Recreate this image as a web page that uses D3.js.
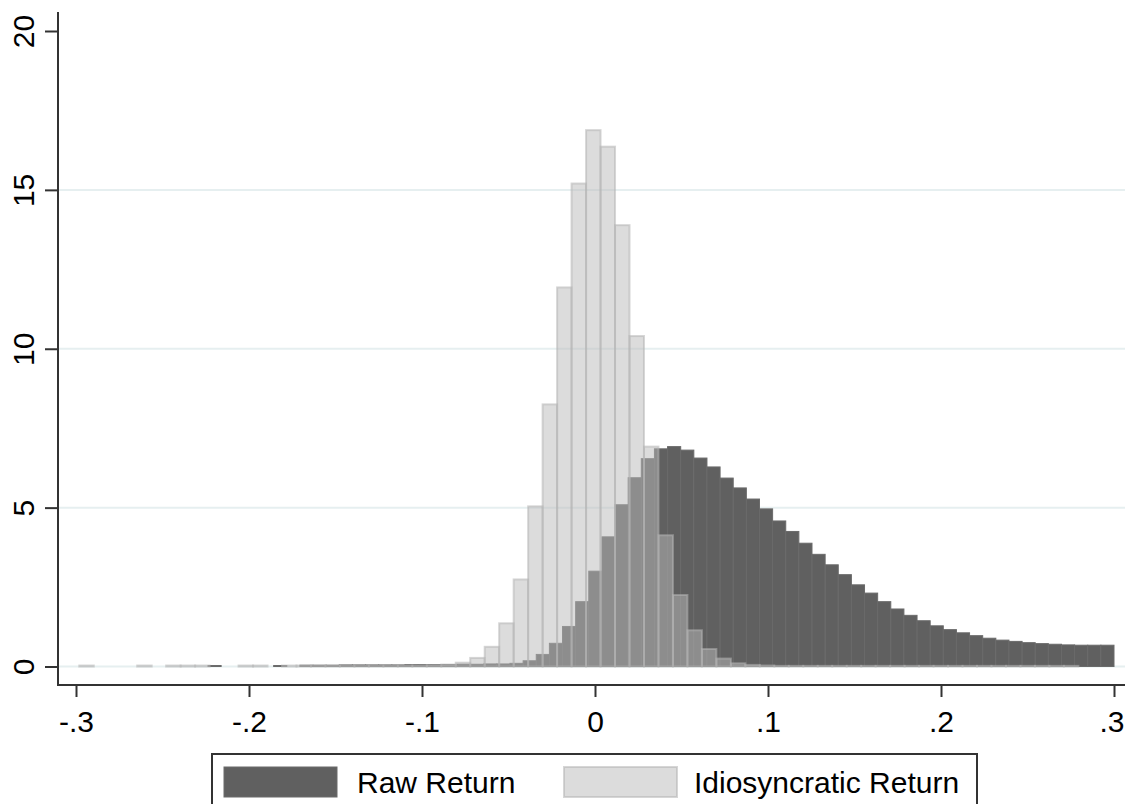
<!DOCTYPE html>
<html lang="en">
<head>
<meta charset="UTF-8">
<title>Return distributions</title>
<style>
  body { margin: 0; background: #fff; }
  svg { display: block; font-family: "Liberation Sans", Arial, sans-serif; }
  .tick text { font-size: 30px; fill: #000; }
  .tick line { stroke: #333; stroke-width: 2; }
  .grid line { stroke: #e6eff0; stroke-width: 2; }
  .raw rect { fill: #606060; stroke: #6a6a6a; stroke-width: 1; }
  .idio rect { fill: #b9b9b9; fill-opacity: 0.5; stroke: #b4b4b4; stroke-opacity: 0.55; stroke-width: 2; }
</style>
</head>
<body>
<svg width="1125" height="804"></svg>
<script src="https://cdn.jsdelivr.net/npm/d3@7"></script>
<script>

  // raw return histogram: 69 bins from rawRange[0] to rawRange[1]
  var rawRange = [-0.2237, 0.3];
  var rawDensity = [
    0.03, 0, 0, 0, 0, 0.03, 0, 0.04, 0.04, 0.04,
    0.05, 0.05, 0.05, 0.05, 0.05, 0.06, 0.06, 0.06, 0.06, 0.07,
    0.07, 0.08, 0.08, 0.10, 0.18, 0.38, 0.73, 1.26, 2.04, 3.00,
    4.08, 5.09, 5.94, 6.54, 6.85, 6.92, 6.81, 6.56, 6.28, 5.93,
    5.62, 5.27, 4.96, 4.58, 4.25, 3.88, 3.53, 3.20, 2.89, 2.57,
    2.31, 2.04, 1.81, 1.61, 1.44, 1.28, 1.16, 1.06, 0.97, 0.89,
    0.83, 0.79, 0.75, 0.72, 0.70, 0.68, 0.67, 0.67, 0.67
  ];

  // idiosyncratic return histogram: 69 bins
  var idioRange = [-0.2981, 0.2794];
  var idioDensity = [
    0.03, 0, 0, 0, 0.03, 0, 0.03, 0.03, 0.03, 0,
    0, 0.03, 0.03, 0, 0.03, 0.03, 0.03, 0.03, 0.03, 0.03,
    0.03, 0.03, 0.03, 0.03, 0.04, 0.06, 0.12, 0.27, 0.62, 1.36,
    2.74, 5.04, 8.25, 11.93, 15.20, 16.88, 16.36, 13.89, 10.40, 6.92,
    4.13, 2.25, 1.14, 0.55, 0.25, 0.10, 0.05, 0.03, 0.02, 0.02,
    0.02, 0.02, 0.02, 0.02, 0.02, 0.02, 0.02, 0.02, 0.02, 0.02,
    0.02, 0.02, 0.02, 0.02, 0.02, 0.02, 0.02, 0.02, 0.02
  ];

  var xTicks = [-0.3, -0.2, -0.1, 0, 0.1, 0.2, 0.3];
  var xTickLabels = ["-.3", "-.2", "-.1", "0", ".1", ".2", ".3"];
  var yTicks = [0, 5, 10, 15, 20];
  var gridValues = [0, 5, 10, 15];
  var seriesNames = ["Raw Return", "Idiosyncratic Return"];

  var AXIS_X = 58, AXIS_Y = 685, PLOT_TOP = 12, PLOT_RIGHT = 1125;

  var svg = d3.select("svg");

  var x = d3.scaleLinear().domain([-0.3, 0.3]).range([76, 1114]);
  var y = d3.scaleLinear().domain([0, 20]).range([666.5, 31]);

  function bins(range, values) {
    var w = (range[1] - range[0]) / values.length;
    return values.map(function (v, i) {
      return {x0: range[0] + i * w, x1: range[0] + (i + 1) * w, v: v};
    });
  }

  // grid lines
  svg.append("g").attr("class", "grid")
    .selectAll("line").data(gridValues).enter().append("line")
    .attr("x1", AXIS_X).attr("x2", PLOT_RIGHT)
    .attr("y1", function (d) { return y(d); })
    .attr("y2", function (d) { return y(d); });

  function drawBars(cls, data) {
    svg.append("g").attr("class", cls)
      .selectAll("rect").data(data.filter(function (d) { return d.v > 0; }))
      .enter().append("rect")
      .attr("x", function (d) { return x(d.x0); })
      .attr("width", function (d) { return x(d.x1) - x(d.x0); })
      .attr("y", function (d) { return y(d.v); })
      .attr("height", function (d) { return y(0) - y(d.v); });
  }

  drawBars("raw", bins(rawRange, rawDensity));
  drawBars("idio", bins(idioRange, idioDensity));

  // y axis
  var yAxis = svg.append("g")
    .attr("transform", "translate(" + AXIS_X + ",0)")
    .call(d3.axisLeft(y).tickValues(yTicks).tickSize(13));
  yAxis.select(".domain").remove();
  yAxis.selectAll(".tick text")
    .attr("x", null).attr("dy", null)
    .attr("text-anchor", "middle")
    .attr("transform", "translate(-24,0) rotate(-90)");

  // x axis
  var xAxis = svg.append("g")
    .attr("transform", "translate(0," + AXIS_Y + ")")
    .call(d3.axisBottom(x).tickValues(xTicks).tickSize(12)
      .tickFormat(function (d, i) { return xTickLabels[i]; }));
  xAxis.select(".domain").remove();
  xAxis.selectAll(".tick text").attr("y", 47).attr("dy", null);
  // last label sits against the right edge
  xAxis.selectAll(".tick text").filter(function (d) { return d === 0.3; })
    .attr("text-anchor", "end").attr("x", 10);

  svg.append("line")
    .attr("x1", AXIS_X).attr("x2", AXIS_X)
    .attr("y1", PLOT_TOP).attr("y2", AXIS_Y + 1)
    .attr("stroke", "#333").attr("stroke-width", 2);
  svg.append("line")
    .attr("x1", AXIS_X - 1).attr("x2", PLOT_RIGHT)
    .attr("y1", AXIS_Y).attr("y2", AXIS_Y)
    .attr("stroke", "#333").attr("stroke-width", 2);

  // legend
  var legend = svg.append("g");
  legend.append("rect")
    .attr("x", 212).attr("y", 754).attr("width", 765).attr("height", 70)
    .attr("fill", "#fff").attr("stroke", "#333").attr("stroke-width", 2);

  var legendItems = [
    {name: seriesNames[0], cls: "raw", sx: 224, tx: 357},
    {name: seriesNames[1], cls: "idio", sx: 564, tx: 694}
  ];
  legendItems.forEach(function (it) {
    legend.append("g").attr("class", it.cls)
      .append("rect")
      .attr("x", it.sx).attr("y", 767).attr("width", 113).attr("height", 30);
    legend.append("text")
      .attr("x", it.tx).attr("y", 793)
      .style("font-size", "30px")
      .text(it.name);
  });

</script>
</body>
</html>
